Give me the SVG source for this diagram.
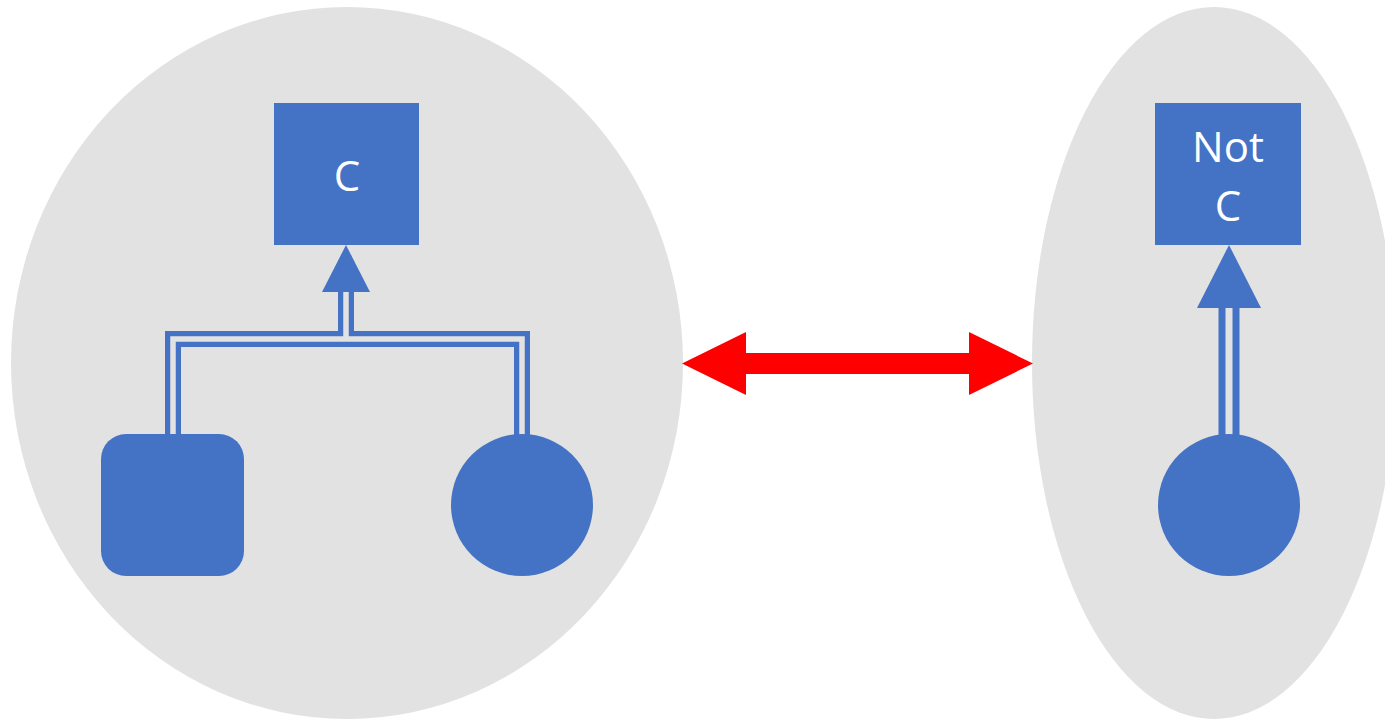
<svg xmlns="http://www.w3.org/2000/svg" width="1385" height="719" viewBox="0 0 1385 719">
<style>
.region{fill:#E2E2E2}
.shape{fill:#4472C4}
.lbl{fill:#FFFFFF;font-family:"Open Sans","Liberation Sans",sans-serif;font-size:42px;text-anchor:middle}
.dbl-out{fill:none;stroke:#4472C4;stroke-linejoin:miter}
.dbl-in{fill:none;stroke:#E2E2E2;stroke-linejoin:miter}
.head{fill:#4472C4}
</style>
<rect x="0" y="0" width="1385" height="719" fill="#FFFFFF"/>
<g id="region-left"><ellipse class="region" cx="347" cy="363" rx="336" ry="356"/></g>
<g id="region-right"><ellipse class="region" cx="1214" cy="363" rx="182" ry="356"/></g>
<g id="connectors">
  <path class="dbl-out" stroke-width="16" d="M173,440 V339 H522 V440 M346,339 V290"/>
  <path class="dbl-in" stroke-width="5.5" d="M173,440 V339 H522 V440 M346,339 V290"/>
  <polygon class="head" points="346,245 370,292 322,292"/>
  <path class="dbl-out" stroke-width="21" d="M1229,440 V306"/>
  <path class="dbl-in" stroke-width="7" d="M1229,440 V306"/>
  <polygon class="head" points="1229,245 1261,308 1197,308"/>
  <polygon fill="#FF0000" points="682,363.5 746,332 746,353 969,353 969,332 1033,363.5 969,395 969,374 746,374 746,395"/>
</g>
<g id="node-c">
  <rect class="shape" x="274" y="103" width="145" height="142"/>
  <text class="lbl" x="347" y="191">C</text>
</g>
<g id="node-square"><rect class="shape" x="101" y="434" width="143" height="142" rx="25" ry="25"/></g>
<g id="node-circle"><circle class="shape" cx="522" cy="505" r="71"/></g>
<g id="node-notc">
  <rect class="shape" x="1155" y="103" width="146" height="142"/>
  <text class="lbl" x="1228" y="162">Not</text>
  <text class="lbl" x="1228" y="221">C</text>
</g>
<g id="node-circle-right"><circle class="shape" cx="1229" cy="505" r="71"/></g>
</svg>
